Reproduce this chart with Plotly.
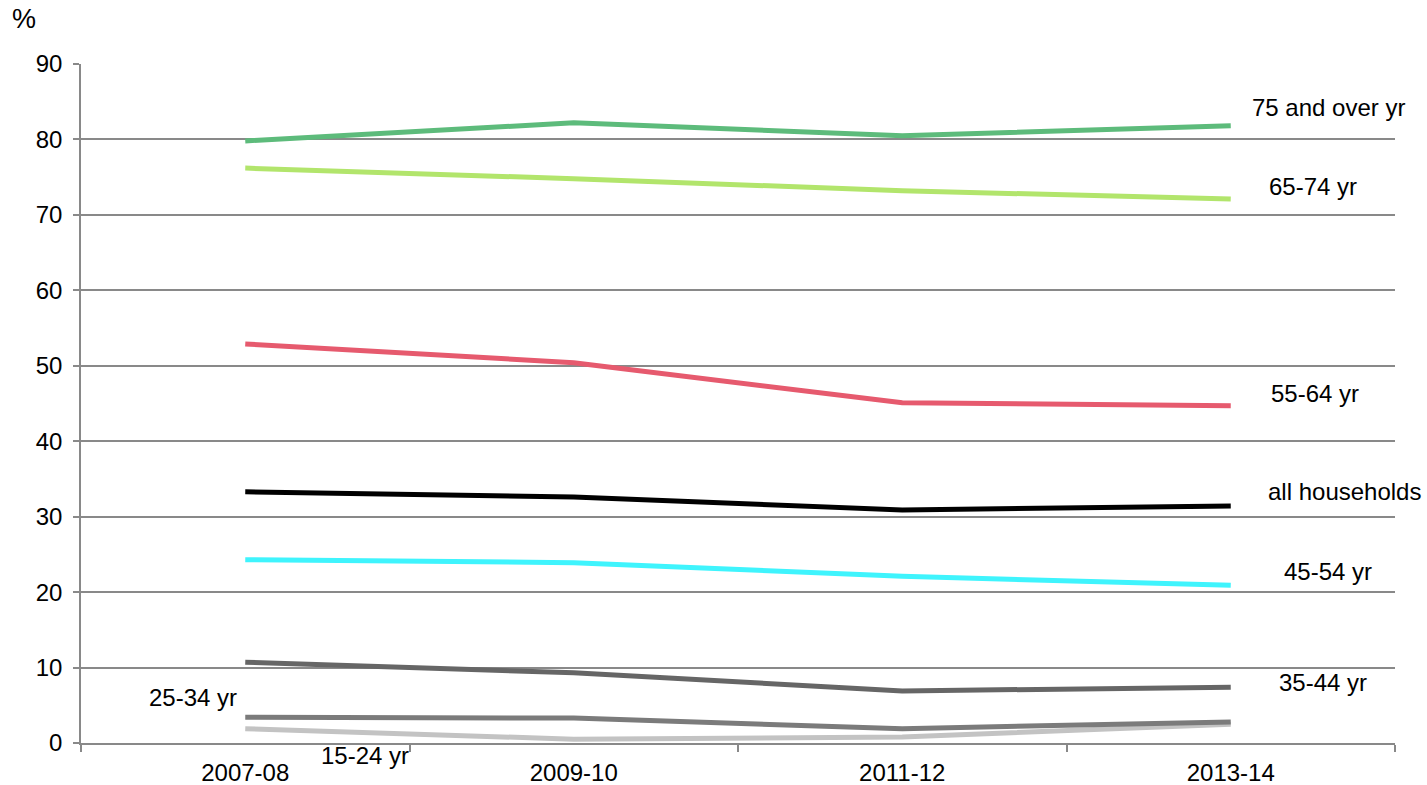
import plotly.graph_objects as go

categories = ["2007-08", "2009-10", "2011-12", "2013-14"]

series_names = ["15-24 yr", "25-34 yr", "35-44 yr", "45-54 yr", "all households",
                "55-64 yr", "65-74 yr", "75 and over yr"]
v_15_24 = [1.9, 0.5, 0.8, 2.5]
v_25_34 = [3.4, 3.3, 1.9, 2.8]
v_35_44 = [10.7, 9.3, 6.9, 7.4]
v_45_54 = [24.3, 23.9, 22.1, 20.9]
v_all = [33.3, 32.6, 30.9, 31.4]
v_55_64 = [52.9, 50.4, 45.1, 44.7]
v_65_74 = [76.2, 74.8, 73.2, 72.1]
v_75_plus = [79.8, 82.2, 80.5, 81.8]
series_values = [v_15_24, v_25_34, v_35_44, v_45_54, v_all, v_55_64, v_65_74, v_75_plus]
colors = ["#c3c3c3", "#7b7b7b", "#666666", "#3ff4fd", "#000000",
          "#e65a6e", "#b2e56c", "#5dbb7b"]

# label anchor positions: x in category-index units; y in paper fraction for the
# label below the axis, value units for the rest
label_x = [0.365, -0.158, 3.282, 3.297, 3.345, 3.257, 3.251, 3.297]
label_y = [-0.019, 6.0, 8.0, 22.7, 33.3, 46.3, 73.7, 84.3]
label_yref = ["paper", "y", "y", "y", "y", "y", "y", "y"]

font_family = "Liberation Sans, Arial, sans-serif"
fs = 24

fig = go.Figure()
for name, vals, col in zip(series_names, series_values, colors):
    fig.add_trace(go.Scatter(x=categories, y=vals, mode="lines", name=name,
                             line=dict(color=col, width=5), showlegend=False))

for name, lx, ly, yr in zip(series_names, label_x, label_y, label_yref):
    fig.add_annotation(x=lx, y=ly, xref="x", yref=yr, text=name, showarrow=False,
                       xanchor="center", yanchor="middle",
                       font=dict(family=font_family, size=fs, color="#000000"))

fig.add_annotation(x=-0.043, y=1.066, xref="paper", yref="paper", text="%",
                   showarrow=False, xanchor="center", yanchor="middle",
                   font=dict(family=font_family, size=27, color="#000000"))

fig.update_layout(
    width=1427, height=785,
    margin=dict(l=81, r=32, t=64, b=42),
    plot_bgcolor="white", paper_bgcolor="white",
    font=dict(family=font_family, size=fs, color="#000000"),
    xaxis=dict(type="category", range=[-0.5, 3.5], showgrid=False, automargin=False,
               showline=True, linecolor="#898989", linewidth=1.5,
               ticks="outside", tickson="boundaries", ticklen=7, tickcolor="#898989",
               tickwidth=1.5, ticklabelstandoff=7),
    yaxis=dict(range=[0, 90], dtick=10, showgrid=True, gridcolor="#898989", gridwidth=1.5,
               showline=True, linecolor="#898989", linewidth=1.5, zeroline=False,
               automargin=False,
               ticks="outside", ticklen=6, tickcolor="#898989", tickwidth=1.5,
               ticklabelstandoff=6),
)

fig.write_html("out.html", config={"displayModeBar": False},
               post_script="document.body.style.margin='0px';")
